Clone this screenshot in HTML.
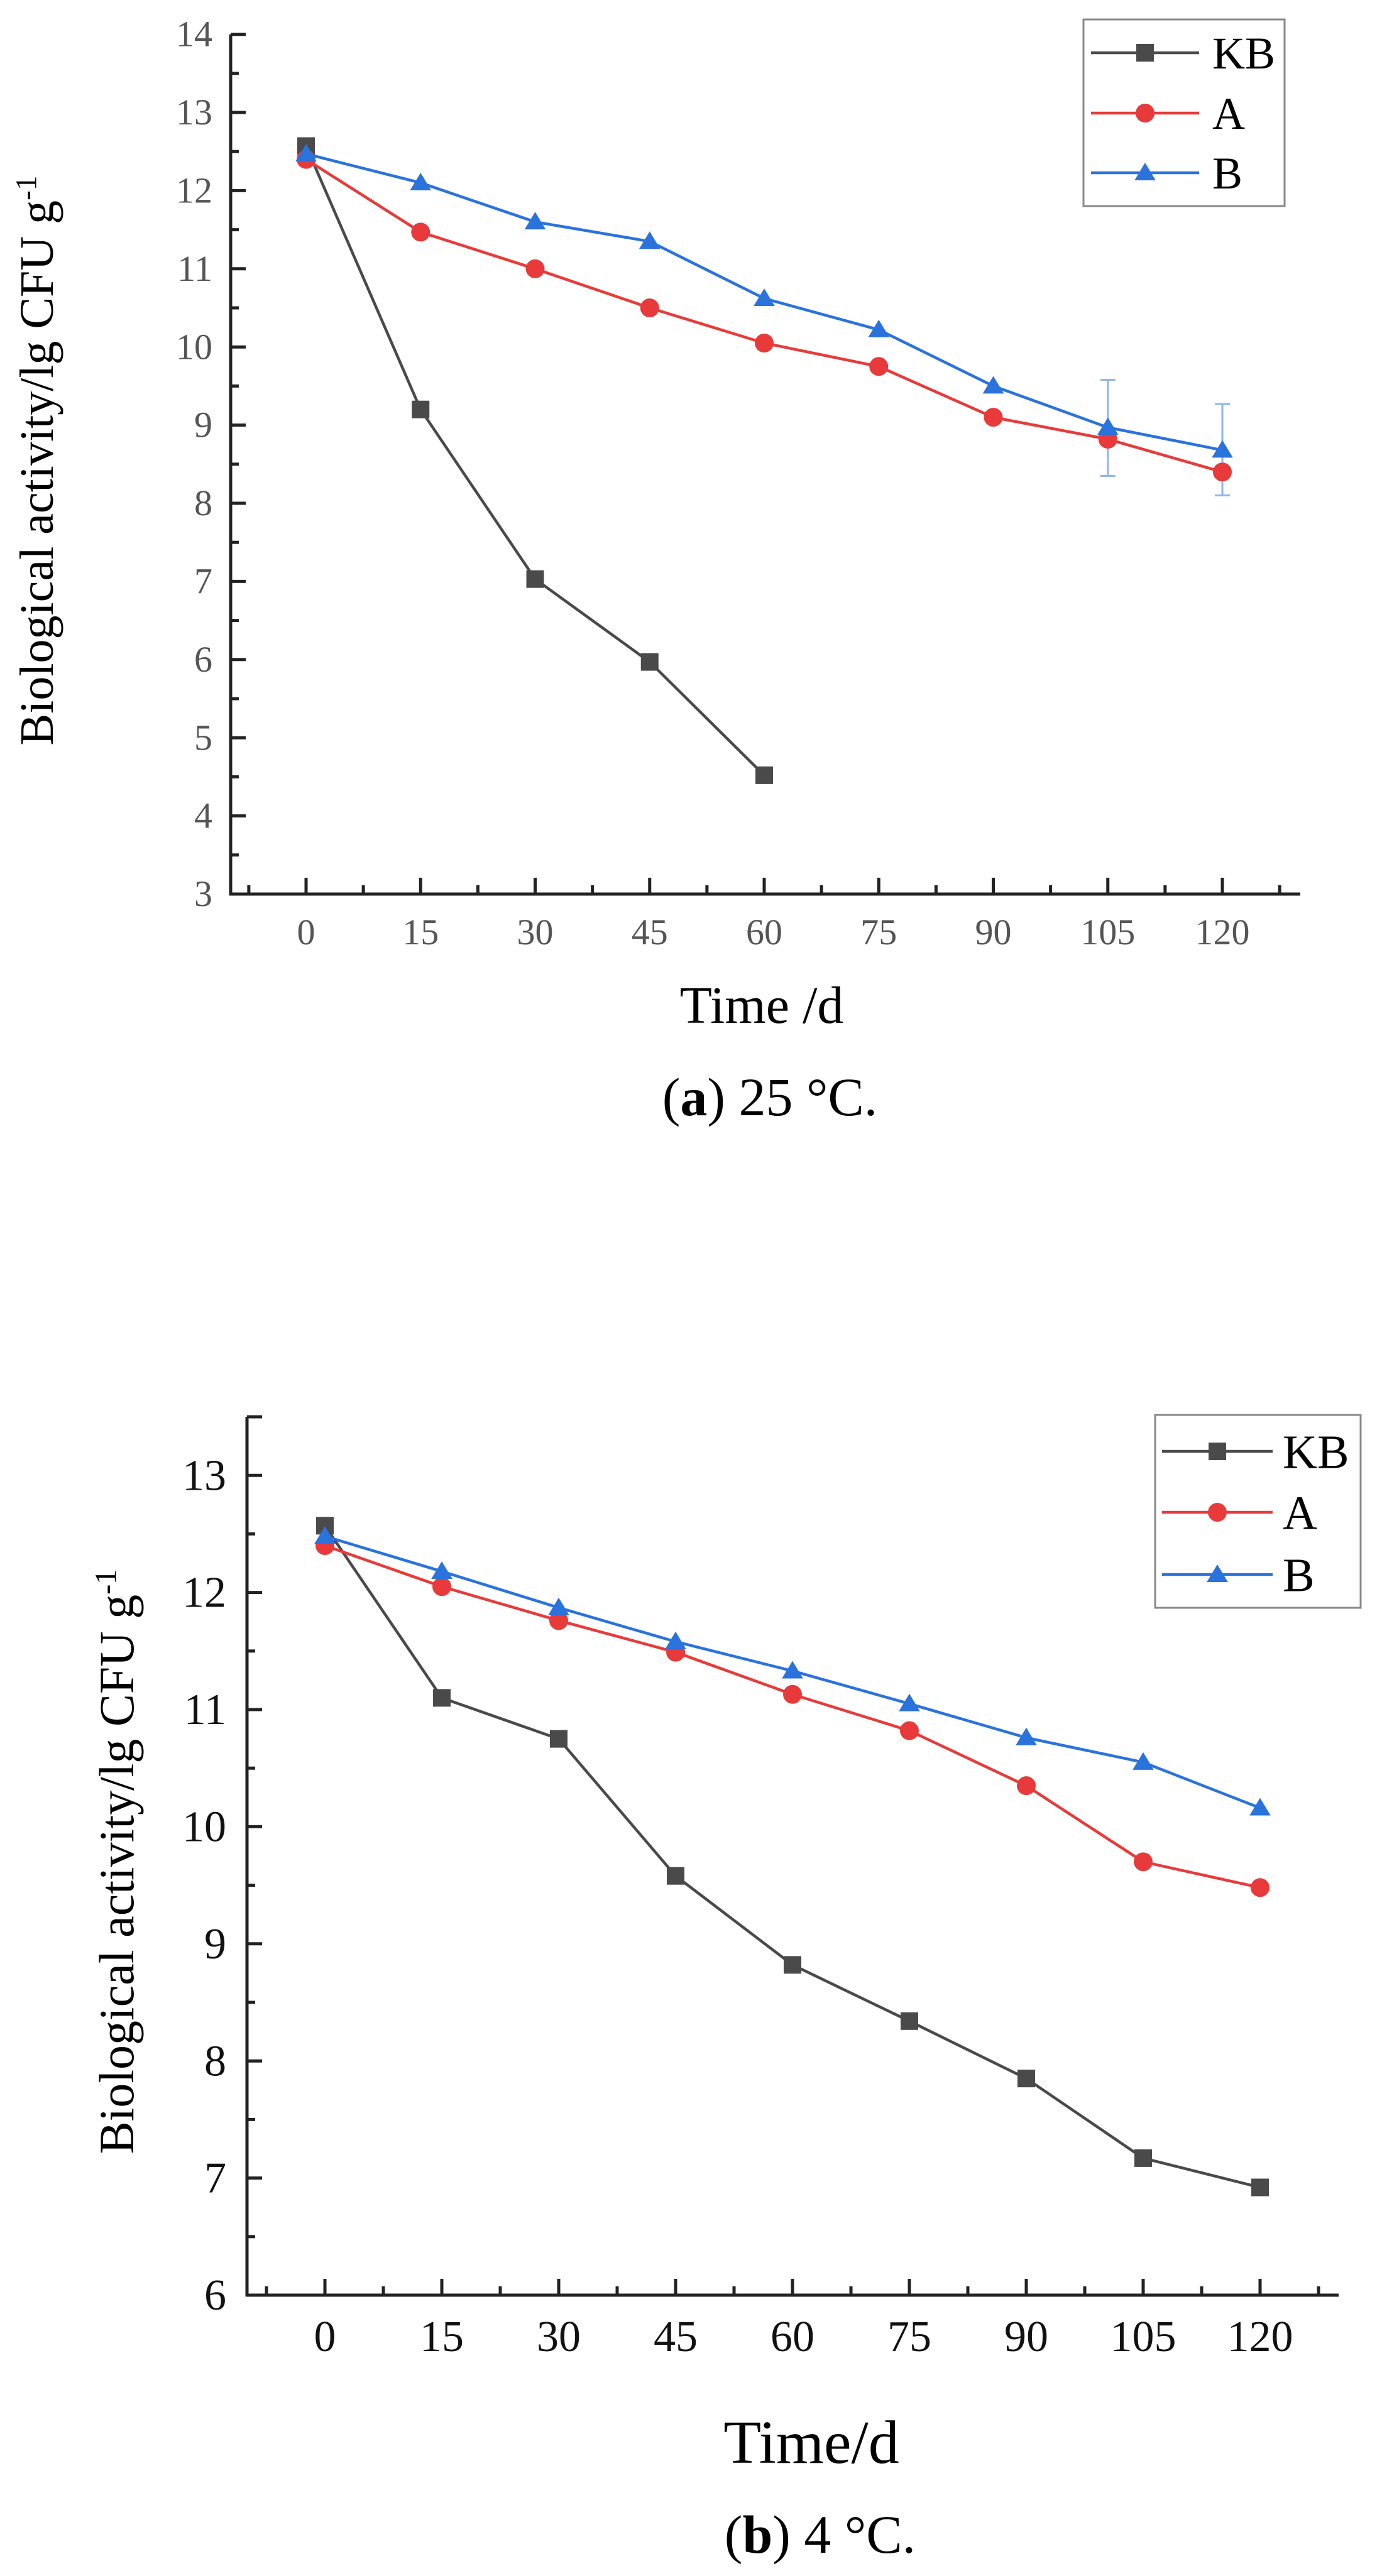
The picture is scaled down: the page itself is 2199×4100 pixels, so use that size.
<!DOCTYPE html>
<html><head><meta charset="utf-8">
<style>
html,body{margin:0;padding:0;background:#fff;}
svg{display:block;}
text{font-family:"Liberation Serif",serif;}
</style></head>
<body>
<svg id="fig" width="2199" height="4100" viewBox="0 0 2199 4100" xmlns="http://www.w3.org/2000/svg">
<g id="chartA"></g>
<g id="chartB"></g>
</svg>
<script>
const days = [0, 15, 30, 45, 60, 75, 90, 105, 120];
const aKB = [12.57, 9.2, 7.03, 5.97, 4.52];
const aA = [12.4, 11.47, 11.0, 10.5, 10.05, 9.75, 9.1, 8.82, 8.4];
const aB = [12.47, 12.1, 11.6, 11.35, 10.62, 10.22, 9.5, 8.97, 8.68];
const aErrDays = [105, 120];
const aErrLow = [8.35, 8.1];
const aErrHigh = [9.58, 9.27];
const aYTicks = [3, 4, 5, 6, 7, 8, 9, 10, 11, 12, 13, 14];
const bKB = [12.57, 11.1, 10.75, 9.58, 8.82, 8.34, 7.85, 7.17, 6.92];
const bA = [12.4, 12.05, 11.76, 11.49, 11.13, 10.82, 10.35, 9.7, 9.48];
const bB = [12.48, 12.18, 11.87, 11.58, 11.33, 11.05, 10.76, 10.55, 10.16];
const bYTicks = [6, 7, 8, 9, 10, 11, 12, 13];
const seriesNames = ["KB", "A", "B"];

const NS = "http://www.w3.org/2000/svg";
const COLORS = {KB: "#4a4a4a", A: "#e83a3a", B: "#2a72dc"};

function mk(parent, tag, attrs, txt) {
  const e = document.createElementNS(NS, tag);
  for (const k in attrs) e.setAttribute(k, attrs[k]);
  if (txt !== undefined) e.textContent = txt;
  parent.appendChild(e);
  return e;
}

function marker(g, name, x, y, s) {
  let m;
  if (name === "KB") {
    m = mk(g, "rect", {x: x - s / 2, y: y - s / 2, width: s, height: s, fill: COLORS.KB});
  } else if (name === "A") {
    m = mk(g, "circle", {cx: x, cy: y, r: s / 2 + 1, fill: COLORS.A});
  } else {
    const h = s * 0.95;
    m = mk(g, "polygon", {points: `${x},${y - h * 0.6} ${x - s * 0.6},${y + h * 0.45} ${x + s * 0.6},${y + h * 0.45}`, fill: COLORS.B});
  }
  return m;
}

function drawChart(g, cfg) {
  const xs = d => cfg.x0 + (d - 0) / 120 * (cfg.x120 - cfg.x0);
  const ys = v => cfg.yBase - (v - cfg.yMin) * cfg.pxPerUnit;
  const axis = mk(g, "g", {});
  
  
  const yTop = ys(cfg.yMax);
  mk(axis, "line", {x1: cfg.axX, y1: yTop, x2: cfg.axX, y2: cfg.yBase + 2, stroke: "#222", "stroke-width": 5});
  mk(axis, "line", {x1: cfg.axX - 2, y1: cfg.yBase, x2: cfg.xEnd, y2: cfg.yBase, stroke: "#222", "stroke-width": 5});
  // y ticks
  for (let i = 0; i < cfg.yTicks.length; i++) {
    const v = cfg.yTicks[i];
    const y = ys(v);
    mk(axis, "line", {x1: cfg.axX, y1: y, x2: cfg.axX + 24, y2: y, stroke: "#222", "stroke-width": 5});
    const t = mk(axis, "text", {x: cfg.labX, y: y + cfg.yFont * 0.33, "font-size": cfg.yFont, "text-anchor": "end", fill: cfg.tickColor}, String(v));
    
    
    if (i < cfg.yTicks.length - 1 || cfg.yMax > v) {
      const ym = ys(v + 0.5);
      if (v + 0.5 <= cfg.yMax) mk(axis, "line", {x1: cfg.axX, y1: ym, x2: cfg.axX + 13, y2: ym, stroke: "#222", "stroke-width": 5});
    }
  }
  if (cfg.topTick) mk(axis, "line", {x1: cfg.axX, y1: yTop, x2: cfg.axX + 24, y2: yTop, stroke: "#222", "stroke-width": 5});
  // x ticks
  for (let i = 0; i < days.length; i++) {
    const x = xs(days[i]);
    mk(axis, "line", {x1: x, y1: cfg.yBase, x2: x, y2: cfg.yBase - 26, stroke: "#222", "stroke-width": 5});
    const t = mk(axis, "text", {x: x, y: cfg.xLabY, "font-size": cfg.yFont, "text-anchor": "middle", fill: cfg.tickColor}, String(days[i]));
    
    
  }
  for (let d = -7.5; d <= 127.5; d += 15) {
    const x = xs(d);
    if (x < cfg.axX + 5 || x > cfg.xEnd) continue;
    mk(axis, "line", {x1: x, y1: cfg.yBase, x2: x, y2: cfg.yBase - 14, stroke: "#222", "stroke-width": 5});
  }
  // titles
  const yt = mk(g, "text", {x: 0, y: 0, "font-size": cfg.yTitleFont, "text-anchor": "middle", fill: "#000", transform: `translate(${cfg.yTitleX},${cfg.yTitleY}) rotate(-90)`});
  
  
  yt.appendChild(document.createTextNode("Biological activity/lg CFU g"));
  mk(yt, "tspan", {dy: -cfg.yTitleFont * 0.35, "font-size": cfg.yTitleFont * 0.62}, "-1");
  const xt = mk(g, "text", {x: cfg.xTitleX, y: cfg.xTitleY, "font-size": cfg.xTitleFont, "text-anchor": "middle", fill: "#000"}, cfg.xTitle);
  
  
  const cap = mk(g, "text", {x: cfg.capX, y: cfg.capY, "font-size": 86, "text-anchor": "middle", fill: "#000"});
  
  
  cap.appendChild(document.createTextNode("("));
  mk(cap, "tspan", {"font-weight": "bold"}, cfg.capLetter);
  cap.appendChild(document.createTextNode(") " + cfg.capText));
  // error bars
  if (cfg.errDays) {
    for (let i = 0; i < cfg.errDays.length; i++) {
      const x = xs(cfg.errDays[i]);
      const eb = mk(g, "g", {stroke: "#8fb5ea", "stroke-width": 3});
      
      
      mk(eb, "line", {x1: x, y1: ys(cfg.errLow[i]), x2: x, y2: ys(cfg.errHigh[i])});
      mk(eb, "line", {x1: x - 12, y1: ys(cfg.errLow[i]), x2: x + 12, y2: ys(cfg.errLow[i])});
      mk(eb, "line", {x1: x - 12, y1: ys(cfg.errHigh[i]), x2: x + 12, y2: ys(cfg.errHigh[i])});
    }
  }
  // series
  const data = [cfg.KB, cfg.A, cfg.B];
  for (let s = 0; s < 3; s++) {
    const name = seriesNames[s];
    const vals = data[s];
    const sg = mk(g, "g", {});
    
    
    const pts = vals.map((v, i) => xs(days[i]) + "," + ys(v)).join(" ");
    mk(sg, "polyline", {points: pts, fill: "none", stroke: COLORS[name], "stroke-width": 4.5});
    for (let i = 0; i < vals.length; i++) {
      const m = marker(sg, name, xs(days[i]), ys(vals[i]), 28);
      
      
    }
  }
  // legend
  const L = cfg.legend;
  const lg = mk(g, "g", {});
  
  
  mk(lg, "rect", {x: L.x, y: L.y, width: L.w, height: L.h, fill: "#fff", stroke: "#888", "stroke-width": 3});
  for (let s = 0; s < 3; s++) {
    const name = seriesNames[s];
    const y = L.rows[s];
    const e = mk(lg, "g", {});
    
    
    mk(e, "line", {x1: L.lx1, y1: y, x2: L.lx2, y2: y, stroke: COLORS[name], "stroke-width": 4.5});
    marker(e, name, (L.lx1 + L.lx2) / 2, y, 28);
    mk(e, "text", {x: L.tx, y: y + L.font * 0.35, "font-size": L.font, fill: "#000"}, name);
  }
}

drawChart(document.getElementById("chartA"), {
  x0: 487, x120: 1945, axX: 367, xEnd: 2069, yBase: 1423, yMin: 3, yMax: 14, pxPerUnit: 124.4,
  yTicks: aYTicks, labX: 338, yFont: 58, tickColor: "#555", xLabY: 1503, topTick: true,
  yTitleX: 84, yTitleY: 733, yTitleFont: 76, xTitle: "Time /d", xTitleX: 1212, xTitleY: 1628, xTitleFont: 84,
  capX: 1225, capY: 1775, capLetter: "a", capText: "25 °C.",
  KB: aKB, A: aA, B: aB, errDays: aErrDays, errLow: aErrLow, errHigh: aErrHigh,
  legend: {x: 1724, y: 31, w: 320, h: 297, rows: [84, 180, 275], lx1: 1736, lx2: 1908, tx: 1929, font: 72}
});
drawChart(document.getElementById("chartB"), {
  x0: 517, x120: 2005, axX: 393, xEnd: 2130, yBase: 3653, yMin: 6, yMax: 13.5, pxPerUnit: 186.4,
  yTicks: bYTicks, labX: 360, yFont: 70, tickColor: "#111", xLabY: 3742, topTick: true,
  yTitleX: 212, yTitleY: 2963, yTitleFont: 78, xTitle: "Time/d", xTitleX: 1291, xTitleY: 3920, xTitleFont: 98,
  capX: 1305, capY: 4063, capLetter: "b", capText: "4 °C.",
  KB: bKB, A: bA, B: bB,
  legend: {x: 1838, y: 2252, w: 327, h: 307, rows: [2310, 2407, 2506], lx1: 1849, lx2: 2025, tx: 2041, font: 76}
});
</script>
</body></html>
